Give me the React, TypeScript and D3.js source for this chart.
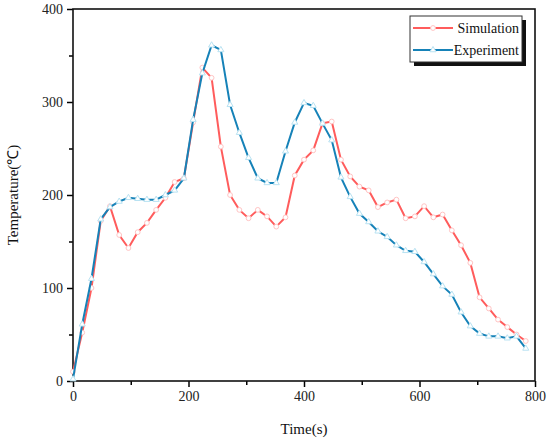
import React, { useEffect, useRef } from 'react';
import * as d3 from 'd3';

// sample times (s), one every 16 s
const times = d3.range(0, 50).map(i => i * 16);

const simulation = [
  10, 52, 100, 172, 188, 157, 143, 160, 170, 184,
  197, 214, 218, 278, 337, 326, 252, 200, 184, 175,
  184, 177, 166, 176, 221, 238, 248, 277, 279, 238,
  220, 209, 205, 187, 192, 195, 175, 177, 188, 176,
  179, 162, 146, 127, 90, 78, 66, 58, 50, 43,
];

const experiment = [
  2, 61, 110, 174, 187, 193, 197, 196, 195, 195,
  200, 205, 218, 281, 331, 361, 356, 297, 267, 240,
  218, 213, 213, 247, 278, 299, 296, 277, 259, 219,
  198, 180, 171, 161, 155, 146, 140, 139, 128, 115,
  102, 93, 74, 59, 51, 48, 48, 46, 48, 35,
];

const xTicks = [0, 200, 400, 600, 800];
const yTicks = [0, 100, 200, 300, 400];

const series = [
  { name: 'Simulation', values: simulation, color: '#ff5c5c', marker: 'circle', markerStroke: '#ffc4c4' },
  { name: 'Experiment', values: experiment, color: '#1682b8', marker: 'triangle', markerStroke: '#b8e2f2' },
];

const W = 550;
const H = 442;
const margin = { top: 9, right: 15, bottom: 61, left: 73 };

export default function App() {
  const ref = useRef<SVGSVGElement>(null);

  useEffect(() => {
    const svg = d3.select(ref.current);
    svg.selectAll('*').remove();

    const x = d3.scaleLinear().domain([0, 800]).range([margin.left, W - margin.right]);
    const y = d3.scaleLinear().domain([0, 400]).range([H - margin.bottom, margin.top]);
    const font = '"Liberation Serif", "Times New Roman", serif';

    // minor ticks
    svg.append('g')
      .attr('transform', `translate(0,${y(0)})`)
      .call(d3.axisBottom(x).tickValues([100, 300, 500, 700]).tickSize(4).tickFormat(() => ''))
      .call((g: any) => g.select('.domain').remove())
      .call((g: any) => g.selectAll('line').attr('stroke-width', 1.5));
    svg.append('g')
      .attr('transform', `translate(${x(0)},0)`)
      .call(d3.axisLeft(y).tickValues([50, 150, 250, 350]).tickSize(4).tickFormat(() => ''))
      .call((g: any) => g.select('.domain').remove())
      .call((g: any) => g.selectAll('line').attr('stroke-width', 1.5));

    // major ticks + labels
    svg.append('g')
      .attr('transform', `translate(0,${y(0)})`)
      .call(d3.axisBottom(x).tickValues(xTicks).tickSize(6).tickPadding(4))
      .call((g: any) => g.select('.domain').remove())
      .call((g: any) => g.selectAll('line').attr('stroke-width', 1.5))
      .call((g: any) => g.selectAll('text').attr('font-family', font).attr('font-size', 14).attr('fill', '#222'));
    svg.append('g')
      .attr('transform', `translate(${x(0)},0)`)
      .call(d3.axisLeft(y).tickValues(yTicks).tickSize(6).tickPadding(4))
      .call((g: any) => g.select('.domain').remove())
      .call((g: any) => g.selectAll('line').attr('stroke-width', 1.5))
      .call((g: any) => g.selectAll('text').attr('font-family', font).attr('font-size', 14).attr('fill', '#222'));

    // frame
    svg.append('rect')
      .attr('x', x(0)).attr('y', y(400))
      .attr('width', x(800) - x(0)).attr('height', y(0) - y(400))
      .attr('fill', 'none').attr('stroke', '#111').attr('stroke-width', 1.6);

    const line = d3.line<number>().x((d, i) => x(times[i])).y(d => y(d));
    const tri = d3.symbol().type(d3.symbolTriangle).size(16);

    series.forEach(s => {
      svg.append('path')
        .datum(s.values)
        .attr('d', line)
        .attr('fill', 'none')
        .attr('stroke', s.color)
        .attr('stroke-width', 2);
      const pts = svg.append('g');
      if (s.marker === 'circle') {
        pts.selectAll('circle').data(s.values).join('circle')
          .attr('cx', (d, i) => x(times[i])).attr('cy', d => y(d)).attr('r', 2.4)
          .attr('fill', '#fff').attr('stroke', s.markerStroke).attr('stroke-width', 1);
      } else {
        pts.selectAll('path').data(s.values).join('path')
          .attr('d', tri)
          .attr('transform', (d, i) => `translate(${x(times[i])},${y(d)})`)
          .attr('fill', '#fff').attr('stroke', s.markerStroke).attr('stroke-width', 1);
      }
    });

    // axis titles
    svg.append('text')
      .attr('x', (x(0) + x(800)) / 2).attr('y', 434)
      .attr('text-anchor', 'middle')
      .attr('font-family', font).attr('font-size', 15).attr('fill', '#111')
      .text('Time(s)');
    svg.append('text')
      .attr('transform', `translate(18,${(y(0) + y(400)) / 2}) rotate(-90)`)
      .attr('text-anchor', 'middle')
      .attr('font-family', font).attr('font-size', 15).attr('fill', '#111')
      .text('Temperature(℃)');

    // legend
    const lg = svg.append('g').attr('transform', 'translate(410,16)');
    lg.append('rect').attr('x', 4).attr('y', 4).attr('width', 112).attr('height', 46).attr('fill', '#111');
    lg.append('rect').attr('x', 0).attr('y', 0).attr('width', 112).attr('height', 46)
      .attr('fill', '#fff').attr('stroke', '#333').attr('stroke-width', 1);
    series.forEach((s, i) => {
      const ly = 12 + i * 22;
      lg.append('line').attr('x1', 3).attr('x2', 43).attr('y1', ly).attr('y2', ly)
        .attr('stroke', s.color).attr('stroke-width', 2);
      if (s.marker === 'circle') {
        lg.append('circle').attr('cx', 23).attr('cy', ly).attr('r', 2.4)
          .attr('fill', '#fff').attr('stroke', s.markerStroke);
      } else {
        lg.append('path').attr('d', tri).attr('transform', `translate(23,${ly})`)
          .attr('fill', '#fff').attr('stroke', s.markerStroke);
      }
      lg.append('text').attr('x', 109).attr('y', ly + 5)
        .attr('text-anchor', 'end')
        .attr('font-family', font).attr('font-size', 14).attr('fill', '#111')
        .text(s.name);
    });
  }, []);

  return (
    <svg
      ref={ref}
      width={W}
      height={H}
      style={{ position: 'absolute', left: 0, top: 0, display: 'block' }}
    />
  );
}
